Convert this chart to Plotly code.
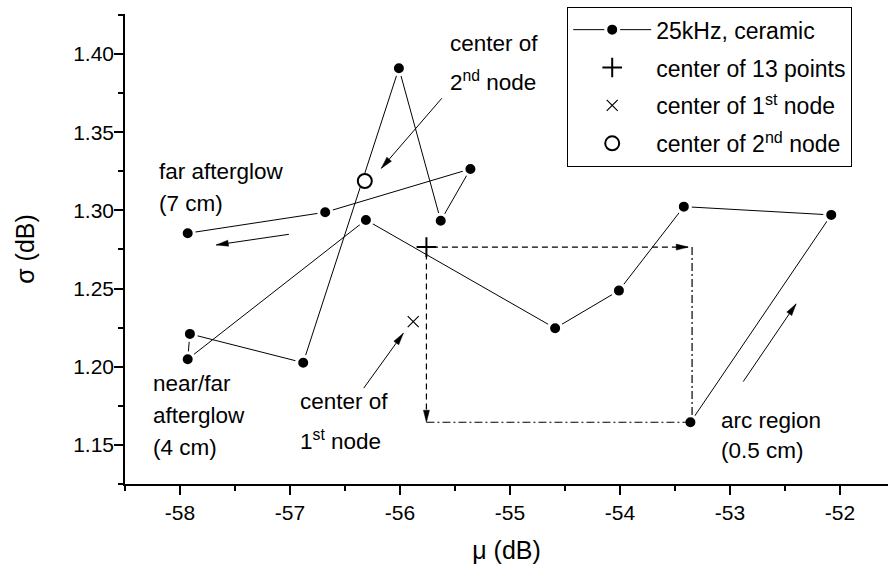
import math
import plotly.graph_objects as go

FONT = "Liberation Sans, Arial, sans-serif"

# Lognormal fit parameters along the discharge axis, in acquisition order
# (arc region -> near afterglow -> far afterglow)
mu = [-53.36, -52.08, -53.42, -54.01, -54.59, -56.31, -57.93,
      -57.91, -56.88, -56.01, -55.63, -55.36, -56.68, -57.93]
sigma = [1.1645, 1.2971, 1.3024, 1.2487, 1.2246, 1.2939, 1.2048,
         1.2210, 1.2026, 1.3909, 1.2934, 1.3265, 1.2988, 1.2854]

center_all = (-55.76, 1.2765)    # center of 13 points
center_node1 = (-55.88, 1.2289)  # center of 1st node
center_node2 = (-56.32, 1.3188)  # center of 2nd node
arc_point = (mu[0], sigma[0])

x_ticks = [-58, -57, -56, -55, -54, -53, -52]
x_ticktext = ["-58", "-57", "-56", "-55", "-54", "-53", "-52"]
y_ticks = [1.15, 1.20, 1.25, 1.30, 1.35, 1.40]
y_ticktext = ["1.15", "1.20", "1.25", "1.30", "1.35", "1.40"]

x_range = [-58.5, -51.564]
y_range = [1.125, 1.4256]

W, H = 888, 570
M = dict(l=125, r=0, t=14, b=86)
px_x = (W - M["l"] - M["r"]) / (x_range[1] - x_range[0])
px_y = (H - M["t"] - M["b"]) / (y_range[1] - y_range[0])

# solid annotation arrows: (tail, head)
arrows = [
    ((-55.62, 1.3717), (-56.17, 1.3269)),   # to 2nd node center
    ((-57.01, 1.2847), (-57.67, 1.2779)),   # far afterglow direction
    ((-56.33, 1.1863), (-55.97, 1.2214)),   # to 1st node center
    ((-52.88, 1.1905), (-52.40, 1.2402)),   # arc region direction
]

# text labels: (text, x, y)
labels = [
    ("center of", -55.561, 1.4066),
    ("2<sup>nd</sup> node", -55.561, 1.3825),
    ("far afterglow", -58.212, 1.3246),
    ("(7 cm)", -58.212, 1.3041),
    ("near/far", -58.264, 1.1892),
    ("afterglow", -58.264, 1.1685),
    ("(4 cm)", -58.264, 1.1481),
    ("center of", -56.93, 1.1775),
    ("1<sup>st</sup> node", -56.93, 1.1530),
    ("arc region", -53.10, 1.1658),
    ("(0.5 cm)", -53.10, 1.1466),
]


def head_path(tail, head, length=12.0, half=3.0):
    """Slim filled arrowhead in pixel units, tip at the anchor point."""
    dx = (head[0] - tail[0]) * px_x
    dy = (head[1] - tail[1]) * px_y
    n = math.hypot(dx, dy)
    ux, uy = dx / n, dy / n
    bx, by = -length * ux, -length * uy
    nx, ny = -uy, ux
    return (f"M0,0 L{bx + half * nx:.2f},{by + half * ny:.2f} "
            f"L{bx - half * nx:.2f},{by - half * ny:.2f} Z")


def head_shape(tail, head):
    return dict(type="path", xref="x", yref="y", xsizemode="pixel",
                ysizemode="pixel", xanchor=head[0], yanchor=head[1],
                path=head_path(tail, head), fillcolor="black",
                line=dict(color="black", width=0.5))


fig = go.Figure()

fig.add_trace(go.Scatter(
    x=mu, y=sigma, mode="lines+markers", name="25kHz, ceramic",
    line=dict(color="black", width=1),
    marker=dict(size=13, color="black", line=dict(color="white", width=3)),
    legendgroup="a",
))
fig.add_trace(go.Scatter(
    x=[center_all[0]], y=[center_all[1]], mode="markers",
    name="center of 13 points",
    marker=dict(symbol="cross-thin", size=14, color="black",
                line=dict(color="black", width=2)),
    legendgroup="b",
))
fig.add_trace(go.Scatter(
    x=[center_node1[0]], y=[center_node1[1]], mode="markers",
    name="center of 1<sup>st</sup> node",
    marker=dict(symbol="x-thin", size=11, color="black",
                line=dict(color="black", width=1.2)),
    legendgroup="c",
))
fig.add_trace(go.Scatter(
    x=[center_node2[0]], y=[center_node2[1]], mode="markers",
    name="center of 2<sup>nd</sup> node",
    marker=dict(symbol="circle", size=14, color="white",
                line=dict(color="black", width=2)),
    legendgroup="d",
))

shapes = []
for tail, head in arrows:
    shapes.append(dict(type="line", xref="x", yref="y",
                       x0=tail[0], y0=tail[1], x1=head[0], y1=head[1],
                       line=dict(color="black", width=1)))
    shapes.append(head_shape(tail, head))

# projection of the overall center onto the arc-region point
dash = "6px,4px"
dashdot = "8px,3px,2px,3px"
h_end = (arc_point[0] - 0.02, center_all[1])
v_end = (center_all[0], arc_point[1])
shapes += [
    dict(type="line", xref="x", yref="y", x0=center_all[0] + 0.05,
         y0=center_all[1], x1=h_end[0], y1=h_end[1],
         line=dict(color="black", width=1.2, dash=dash)),
    head_shape(center_all, h_end),
    dict(type="line", xref="x", yref="y", x0=center_all[0],
         y0=center_all[1] - 0.004, x1=v_end[0], y1=v_end[1],
         line=dict(color="black", width=1.2, dash=dash)),
    head_shape(center_all, v_end),
    dict(type="line", xref="x", yref="y", x0=arc_point[0] + 0.015,
         y0=center_all[1], x1=arc_point[0] + 0.015, y1=arc_point[1],
         line=dict(color="black", width=1.2, dash=dashdot)),
    dict(type="line", xref="x", yref="y", x0=v_end[0], y0=arc_point[1],
         x1=arc_point[0], y1=arc_point[1],
         line=dict(color="black", width=1.2, dash=dashdot)),
]

annotations = [
    dict(text=t, x=x, y=y, xref="x", yref="y", xanchor="left",
         yanchor="middle", showarrow=False,
         font=dict(family=FONT, size=22.5, color="black"))
    for t, x, y in labels
]

axis_common = dict(
    showline=True, linecolor="black", linewidth=1.5,
    ticks="outside", ticklen=9, tickwidth=1.5, tickcolor="black",
    showgrid=False, zeroline=False, mirror=False,
    tickfont=dict(family=FONT, size=21, color="black"),
)

fig.update_layout(
    width=W, height=H, margin=M,
    paper_bgcolor="white", plot_bgcolor="white",
    shapes=shapes, annotations=annotations,
    showlegend=True,
    legend=dict(
        x=(567 - M["l"]) / (W - M["l"] - M["r"]),
        y=(H - M["b"] - 7) / (H - M["t"] - M["b"]),
        xanchor="left", yanchor="top",
        bordercolor="black", borderwidth=1.2, bgcolor="white",
        font=dict(family=FONT, size=23, color="black"),
        tracegroupgap=5, itemwidth=78,
    ),
    xaxis=dict(
        range=x_range, tickvals=x_ticks, ticktext=x_ticktext,
        minor=dict(ticks="outside", ticklen=5, tickwidth=1.5,
                   tickcolor="black", dtick=0.5, tick0=-58),
        title=dict(text="\u03bc (dB)", standoff=19,
                   font=dict(family=FONT, size=25, color="black")),
        **axis_common,
    ),
    yaxis=dict(
        range=y_range, tickvals=y_ticks, ticktext=y_ticktext,
        ticklabelstandoff=-4,
        minor=dict(ticks="outside", ticklen=5, tickwidth=1.5,
                   tickcolor="black", dtick=0.025, tick0=1.15),
        title=dict(text="\u03c3 (dB)", standoff=31,
                   font=dict(family=FONT, size=25, color="black")),
        **axis_common,
    ),
)

fig.write_html("out.html")
